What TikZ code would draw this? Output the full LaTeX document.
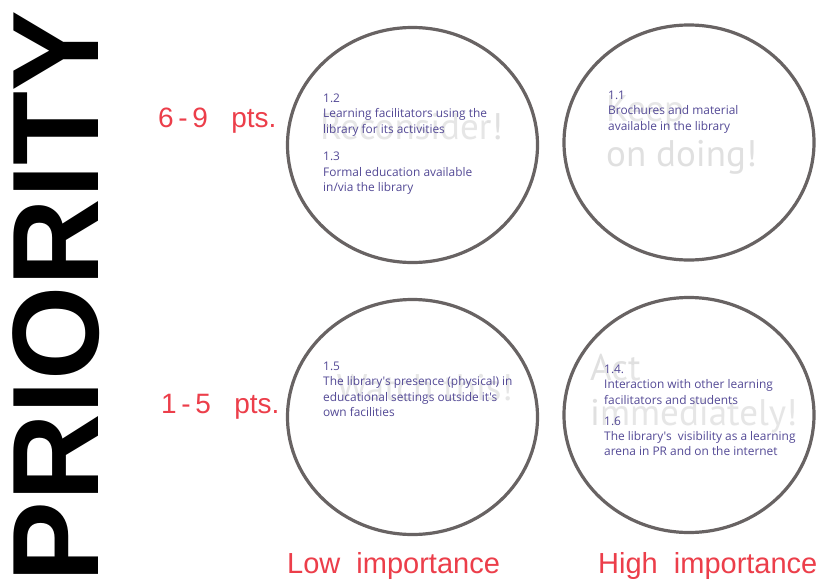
\documentclass[tikz,border=0pt]{standalone}
\usepackage{fontspec}
\usetikzlibrary{shapes.geometric}
\newfontfamily\headfont{Liberation Sans}
\newfontfamily\notefont{Open Sans}
\newfontfamily\ghostfont{PT Sans}
\definecolor{ringgray}{RGB}{104,99,99}
\definecolor{notecol}{RGB}{84,74,150}
\definecolor{ghostcol}{RGB}{224,224,224}
\definecolor{scalered}{RGB}{236,62,74}
\tikzset{
  ring/.style={ellipse, draw=ringgray, line width=3.2pt, minimum width=250pt, minimum height=235pt, inner sep=0pt},
  ghost/.style={font=\ghostfont\fontsize{37}{42}\selectfont, text=ghostcol, inner sep=0pt, anchor=base west},
  note/.style={font=\notefont\fontsize{11.9}{15.4}\selectfont, text=notecol, align=left, inner sep=0pt, anchor=north west,
               fill=white, fill opacity=0.2, text opacity=1},
  scalelabel/.style={font=\headfont\fontsize{28}{32}\selectfont, text=scalered, inner sep=0pt},
}
\begin{document}
\begin{tikzpicture}[x=1pt,y=-1pt]
\useasboundingbox[fill=white] (0,0) rectangle (822,581);

% vertical axis title
\node[font=\headfont\bfseries\fontsize{123}{130}\selectfont, rotate=90, anchor=base, inner sep=0pt]
  (prio) at (98,296.5) {\scalebox{0.985}[1]{PRIORITY}};

% the four quadrant rings
\node[ring] (q1) at (412.5,145) {};
\node[ring] (q2) at (689,142.5) {};
\node[ring] (q3) at (412.5,417) {};
\node[ring] (q4) at (689,415) {};

% faint advice words behind the notes
\node[ghost, anchor=base east] (g1) at (503,139) {Reconsider!};
\node[ghost] (g2a) at (606,121) {Keep};
\node[ghost] (g2b) at (606,166) {on doing!};
\node[ghost, anchor=base east] (g3) at (513,400) {Watch this!};
\node[ghost] (g4a) at (590,380) {Act};
\node[ghost] (g4b) at (590,425) {immediately!};

% notes in each ring
\node[note] (n1) at (323,93.6) {1.2\\Learning facilitators using the\\library for its activities\\[12pt]1.3\\Formal education available\\in/via the library};
\node[note] (n2) at (608,90.6) {1.1\\Brochures and material\\available in the library};
\node[note] (n3) at (323,361.6) {1.5\\The library's presence (physical) in\\educational settings outside it's\\own facilities};
\node[note] (n4) at (604,364.6) {1.4.\\Interaction with other learning\\facilitators and students\\[5.5pt]1.6\\The library's\ \ visibility as a learning\\arena in PR and on the internet};

% scale labels
\node[scalelabel, anchor=base west] (hi) at (158,127) {6\,-\,9\ \ \ pts.};
\node[scalelabel, anchor=base west] (lo) at (161,413) {1\,-\,5\ \ \ pts.};
\node[font=\headfont\fontsize{29}{33}\selectfont, text=scalered, inner sep=0pt, anchor=base west] (low) at (287,573) {Low\ \ importance};
\node[font=\headfont\fontsize{29}{33}\selectfont, text=scalered, inner sep=0pt, anchor=base west] (high) at (598,573) {High\ \ importance};
\end{tikzpicture}
\end{document}
